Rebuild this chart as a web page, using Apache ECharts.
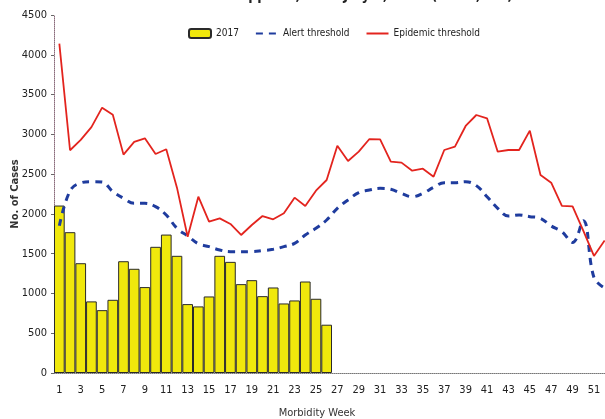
<!DOCTYPE html>
<html>
<head>
<meta charset="utf-8">
<script src="https://cdn.jsdelivr.net/npm/echarts@6/dist/echarts.min.js"></script>
<style>
html,body{margin:0;padding:0;background:#fff;}
#c{width:605px;height:419px;}
</style>
</head>
<body>
<div id="c"></div>
<script>
const weeks = Array.from({length: 52}, (_, i) => String(i + 1));
const cases2017 = [2105, 1770, 1380, 900, 790, 920, 1405, 1310, 1080, 1586, 1740, 1473, 866, 837,
  962, 1473, 1397, 1117, 1167, 966, 1075, 874, 912, 1150, 933, 607];
const alertThreshold = [1850, 2290, 2390, 2405, 2400, 2280, 2196, 2133, 2133, 2091, 1986, 1819, 1722, 1625,
  1588, 1546, 1525, 1525, 1525, 1538, 1555, 1588, 1630, 1735, 1819, 1923, 2070, 2175,
  2266, 2300, 2321, 2309, 2258, 2216, 2258, 2334, 2392, 2392, 2405, 2355, 2216, 2070,
  1973, 1986, 1965, 1944, 1848, 1776, 1640, 1915, 1200, 1068];
const epidemicThreshold = [4140, 2800, 2930, 3090, 3335, 3245, 2745, 2905, 2950, 2753, 2812, 2330, 1713, 2216,
  1902, 1944, 1873, 1735, 1860, 1973, 1932, 2007, 2204, 2099, 2292, 2426, 2857, 2665,
  2782, 2941, 2937, 2656, 2644, 2543, 2568, 2468, 2803, 2845, 3105, 3243, 3201, 2782,
  2803, 2803, 3046, 2489, 2392, 2100, 2095, 1790, 1471, 1665];
const yTicks = {min: 0, max: 4500, interval: 500};
const titleText = 'Philippines, as of July 1, 2017 (N=30,905)';

const FONT = '"Liberation Sans Narrow", "DejaVu Sans Condensed", "Liberation Sans", Arial, sans-serif';
const chart = echarts.init(document.getElementById('c'), null, {renderer: 'canvas'});
chart.setOption({
  animation: false,
  backgroundColor: '#fff',
  title: {
    text: titleText,
    left: 212, top: -16,
    textStyle: {fontFamily: FONT, fontSize: 14, fontWeight: 'bold', color: '#222'}
  },
  legend: {
    top: 23, left: 183,
    itemGap: 16,
    itemWidth: 22, itemHeight: 9,
    textStyle: {fontFamily: FONT, fontSize: 10, color: '#222'},
    data: [
      {name: '2017'},
      {name: 'Alert threshold', itemStyle: {opacity: 0}},
      {name: 'Epidemic threshold', itemStyle: {opacity: 0}}
    ]
  },
  grid: {left: 54, top: 15, width: 556, bottom: 46, containLabel: false, outerBoundsMode: 'none'},
  xAxis: {
    type: 'category',
    data: weeks,
    boundaryGap: true,
    name: 'Morbidity Week',
    nameLocation: 'middle',
    nameGap: 35,
    nameMoveOverlap: false,
    nameTextStyle: {fontFamily: FONT, fontSize: 11, color: '#333', padding: [0, 0, 0, -30]},
    axisLine: {lineStyle: {color: '#777', width: 1, type: 'dotted'}},
    axisTick: {show: false},
    axisLabel: {interval: 1, fontFamily: FONT, fontSize: 11, color: '#222', margin: 12},
    splitLine: {show: false}
  },
  yAxis: {
    type: 'value',
    min: yTicks.min, max: yTicks.max, interval: yTicks.interval,
    name: 'No. of Cases',
    nameLocation: 'middle',
    nameGap: 33,
    nameMoveOverlap: false,
    nameTextStyle: {fontFamily: FONT, fontSize: 11, fontWeight: 'bold', color: '#333'},
    axisLine: {show: true, lineStyle: {color: '#8a6a7a', width: 1, type: 'dotted'}},
    axisTick: {show: true, length: 3, lineStyle: {color: '#666'}},
    axisLabel: {fontFamily: FONT, fontSize: 11, color: '#222', margin: 7, formatter: v => String(v)},
    splitLine: {show: false}
  },
  series: [
    {
      name: '2017',
      type: 'bar',
      data: cases2017,
      barCategoryGap: '0%',
      itemStyle: {color: '#F0E80C', borderColor: '#2a2a2a', borderWidth: 1}
    },
    {
      name: 'Alert threshold',
      type: 'line',
      data: alertThreshold,
      smooth: 0.4,
      symbol: 'none',
      lineStyle: {color: '#1F3C9E', width: 3, type: [7, 6]},
      itemStyle: {color: '#1F3C9E'},
      z: 3
    },
    {
      name: 'Epidemic threshold',
      type: 'line',
      data: epidemicThreshold,
      symbol: 'none',
      lineStyle: {color: '#E3241E', width: 1.8},
      itemStyle: {color: '#E3241E'},
      z: 4
    }
  ]
});
</script>
</body>
</html>
